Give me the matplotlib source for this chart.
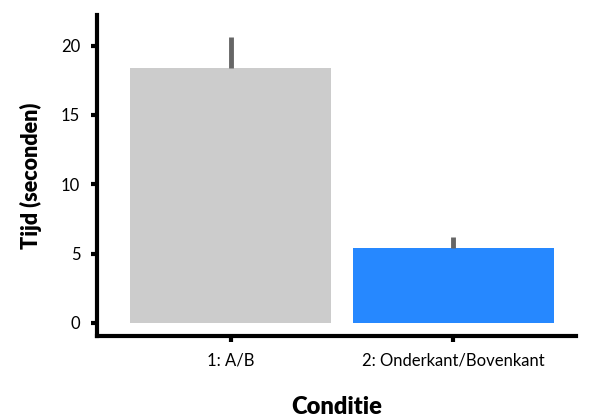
import matplotlib
matplotlib.use("Agg")
import matplotlib.pyplot as plt

# data
conditions = ["1: A/B", "2: Onderkant/Bovenkant"]
mean_time = [18.4, 5.4]
err_upper = [2.25, 0.8]
bar_colors = ["#cccccc", "#2688ff"]

plt.rcParams["font.family"] = ["Lato", "DejaVu Sans"]

fig = plt.figure(figsize=(5.95, 4.2), dpi=100)
ax = fig.add_axes([0.163, 0.2, 0.805, 0.764])

x = list(range(len(conditions)))
ax.bar(x, mean_time, width=0.9, color=bar_colors)
ax.errorbar(x, mean_time, yerr=[[0] * len(x), err_upper], fmt="none",
            ecolor="#666666", elinewidth=3.5, capsize=0)

ax.set_xlim(-0.6, 1.55)
ax.set_ylim(-0.95, 22.2)
ax.set_yticks([0, 5, 10, 15, 20])
ax.set_xticks(x)
ax.set_xticklabels(conditions)

for side in ["top", "right"]:
    ax.spines[side].set_visible(False)
for side in ["left", "bottom"]:
    ax.spines[side].set_linewidth(3)

ax.tick_params(axis="both", width=3, length=4, labelsize=12, pad=8)
ax.set_ylabel("Tijd (seconden)", fontsize=15.5, fontweight="heavy", labelpad=14)
ax.set_xlabel("Conditie", fontsize=17, fontweight="heavy", labelpad=20)

fig.savefig("out.png", dpi=100)
